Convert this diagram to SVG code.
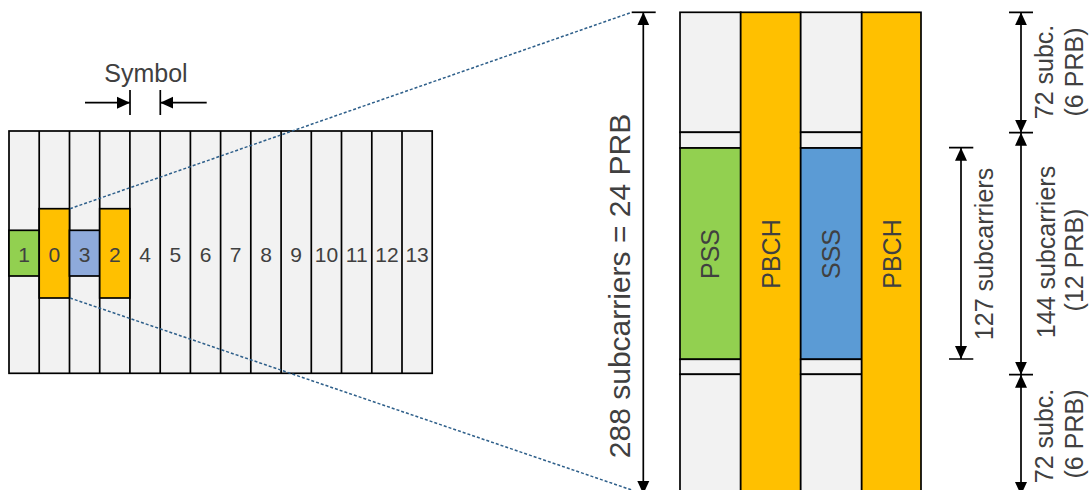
<svg xmlns="http://www.w3.org/2000/svg" width="1091" height="490" viewBox="0 0 1091 490">
<style>
.cell{fill:#f2f2f2;stroke:#000;stroke-width:1.7}
.grn{fill:#92d050;stroke:#000;stroke-width:1.7}
.org{fill:#ffc000;stroke:#000;stroke-width:1.7}
.lbl{fill:#8eaadb;stroke:#000;stroke-width:1.7}
.blu{fill:#5b9bd5;stroke:#000;stroke-width:1.7}
.num{font-family:"Liberation Sans",Arial,sans-serif;font-size:21px;fill:#404040;text-anchor:middle}
.big{font-family:"Liberation Sans",Arial,sans-serif;font-size:25px;fill:#404040;text-anchor:middle}
.huge{font-family:"Liberation Sans",Arial,sans-serif;font-size:30px;fill:#404040;text-anchor:middle}
.ln{stroke:#000;stroke-width:1.7;fill:none}
.dot{stroke:#2e5f8a;stroke-width:1.5;stroke-dasharray:3 2;fill:none}
</style>
<defs>
<marker id="ah" markerUnits="userSpaceOnUse" markerWidth="14" markerHeight="14" viewBox="0 0 14 14" refX="13" refY="7" orient="auto-start-reverse">
<path d="M0,1 L13,7 L0,13 Z" fill="#000"/>
</marker>
</defs>

<g id="grid">
<rect class="cell" x="9" y="131" width="423.2" height="242.3"/>
<path class="ln" d="M39.2,131V373.3M69.5,131V373.3M99.7,131V373.3M129.9,131V373.3M160.2,131V373.3M190.4,131V373.3M220.6,131V373.3M250.8,131V373.3M281.1,131V373.3M311.3,131V373.3M341.5,131V373.3M371.8,131V373.3M402,131V373.3"/>
</g>
<g id="sym1"><rect class="grn" x="9" y="230.3" width="30.2" height="45.7"/><text class="num" x="24.1" y="262">1</text></g>
<g id="sym0"><rect class="org" x="39.2" y="208.7" width="30.3" height="89.3"/><text class="num" x="54.4" y="262">0</text></g>
<g id="sym3"><rect class="lbl" x="69.5" y="230.3" width="30.2" height="45.7"/><text class="num" x="84.6" y="262">3</text></g>
<g id="sym2"><rect class="org" x="99.7" y="208.7" width="30.2" height="89.3"/><text class="num" x="114.8" y="262">2</text></g>
<g id="symrest">
<text class="num" x="145" y="262">4</text>
<text class="num" x="175.3" y="262">5</text>
<text class="num" x="205.5" y="262">6</text>
<text class="num" x="235.7" y="262">7</text>
<text class="num" x="266" y="262">8</text>
<text class="num" x="296.2" y="262">9</text>
<text class="num" x="326.4" y="262">10</text>
<text class="num" x="356.7" y="262">11</text>
<text class="num" x="386.9" y="262">12</text>
<text class="num" x="417.1" y="262">13</text>
</g>
<g id="symbol-label"><text class="big" x="146" y="82">Symbol</text></g>

<g id="col-pss">
<rect class="cell" x="680" y="12.3" width="60.7" height="120"/>
<rect class="cell" x="680" y="132.3" width="60.7" height="15.7"/>
<rect class="grn" x="680" y="148" width="60.7" height="211.3"/>
<rect class="cell" x="680" y="359.3" width="60.7" height="15"/>
<rect class="cell" x="680" y="374.3" width="60.7" height="120"/>
<text class="big" transform="translate(719,254) rotate(-90)">PSS</text>
</g>
<g id="col-pbch1">
<rect class="org" x="740.7" y="12.3" width="60" height="482"/>
<text class="big" transform="translate(780,254) rotate(-90)">PBCH</text>
</g>
<g id="col-sss">
<rect class="cell" x="800.7" y="12.3" width="61" height="120"/>
<rect class="cell" x="800.7" y="132.3" width="61" height="15.7"/>
<rect class="blu" x="800.7" y="148" width="61" height="211.3"/>
<rect class="cell" x="800.7" y="359.3" width="61" height="15"/>
<rect class="cell" x="800.7" y="374.3" width="61" height="120"/>
<text class="big" transform="translate(840,254) rotate(-90)">SSS</text>
</g>
<g id="col-pbch2">
<rect class="org" x="861.7" y="12.3" width="59.3" height="482"/>
<text class="big" transform="translate(901,254) rotate(-90)">PBCH</text>
</g>

<g id="labels">
<text class="huge" transform="translate(630,286) rotate(-90)">288 subcarriers = 24 PRB</text>
<text class="big" transform="translate(1053,72) rotate(-90)">72 subc.</text>
<text class="big" transform="translate(1083,72) rotate(-90)">(6 PRB)</text>
<text class="big" transform="translate(993,254) rotate(-90)">127 subcarriers</text>
<text class="big" transform="translate(1055,252) rotate(-90)">144 subcarriers</text>
<text class="big" transform="translate(1083,260) rotate(-90)">(12 PRB)</text>
<text class="big" transform="translate(1053,436) rotate(-90)">72 subc.</text>
<text class="big" transform="translate(1083,434) rotate(-90)">(6 PRB)</text>
</g>

<g id="connectors">
<path class="dot" d="M70,208.7 L631.7,12.3"/>
<path class="dot" d="M70,298 L631.7,490"/>
<path class="ln" d="M85,102.7 H130" marker-end="url(#ah)"/>
<path class="ln" d="M206.7,102.7 H160.3" marker-end="url(#ah)"/>
<path class="ln" d="M130,90 V115 M160.3,90 V115"/>
<path class="ln" d="M631.7,12.3 H655.7"/>
<path class="ln" d="M643.3,12.3 V494" marker-start="url(#ah)" marker-end="url(#ah)"/>
<path class="ln" d="M1009,12.3 H1033 M1009,132.7 H1033 M1009,374.7 H1033 M949,147.7 H973.3 M949,359 H973.3"/>
<path class="ln" d="M1021,12.3 V132.7" marker-start="url(#ah)" marker-end="url(#ah)"/>
<path class="ln" d="M1021,132.7 V374.7" marker-start="url(#ah)" marker-end="url(#ah)"/>
<path class="ln" d="M1021,374.7 V495" marker-start="url(#ah)" marker-end="url(#ah)"/>
<path class="ln" d="M961,147.7 V359" marker-start="url(#ah)" marker-end="url(#ah)"/>
</g>
</svg>
